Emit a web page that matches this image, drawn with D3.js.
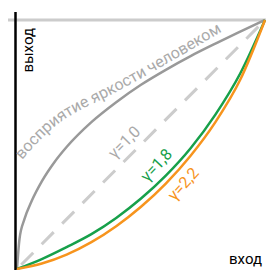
<!DOCTYPE html>
<html>
<head>
<meta charset="utf-8">
<script src="https://cdn.jsdelivr.net/npm/d3@7"></script>
<style>
  body { margin: 0; background: #fff; }
  svg { display: block; font-family: Roboto, "Open Sans", sans-serif; }
</style>
</head>
<body>
<div id="chart"></div>
<script>
// input levels (0..1) and the output
const inputLevels = [0, 0.1, 0.2, 0.3, 0.4, 0.5, 0.6, 0.7, 0.8, 0.9, 1];
const gamma18 = [0, 0.04, 0.088, 0.14, 0.205, 0.283, 0.375, 0.485, 0.62, 0.785, 1];
const gamma22 = [0, 0.022, 0.058, 0.108, 0.172, 0.25, 0.343, 0.455, 0.59, 0.76, 1];

// perception curve is steep near zero, so it gets extra samples there
const perceptionInput = [0, 0.01, 0.03, 0.06, 0.1, 0.15, 0.2, 0.3, 0.4, 0.5, 0.6, 0.7, 0.8, 0.9, 1];
const perceptionOutput = [0, 0.12, 0.2, 0.275, 0.352, 0.428, 0.49, 0.59, 0.67, 0.74, 0.8, 0.855, 0.905, 0.953, 1];

const linearInput = [0, 1];
const linearOutput = [0, 1];

const width = 266, height = 270;

const svg = d3.select("#chart")
  .append("svg")
    .attr("width", width)
    .attr("height", height);

const x = d3.scaleLinear().domain([0, 1]).range([17, 265]);
const y = d3.scaleLinear().domain([0, 1]).range([269, 20]);

const line = d3.line()
  .x(function(d) { return x(d[0]); })
  .y(function(d) { return y(d[1]); })
  .curve(d3.curveMonotoneX);

// top limit of output
svg.append("line")
  .attr("x1", 8).attr("x2", width)
  .attr("y1", y(1)).attr("y2", y(1))
  .attr("stroke", "#cccccc")
  .attr("stroke-width", 3);

// gamma 1.0, dashed diagonal
svg.append("path")
  .datum(d3.zip(linearInput, linearOutput))
  .attr("d", line)
  .attr("fill", "none")
  .attr("stroke", "#cccccc")
  .attr("stroke-width", 3)
  .attr("stroke-dasharray", "17,12")
  .attr("stroke-dashoffset", -6);

svg.append("path")
  .datum(d3.zip(perceptionInput, perceptionOutput))
  .attr("d", line)
  .attr("fill", "none")
  .attr("stroke", "#999999")
  .attr("stroke-width", 2.5);

svg.append("path")
  .datum(d3.zip(inputLevels, gamma18))
  .attr("d", line)
  .attr("fill", "none")
  .attr("stroke", "#17a04a")
  .attr("stroke-width", 2.5);

svg.append("path")
  .datum(d3.zip(inputLevels, gamma22))
  .attr("d", line)
  .attr("fill", "none")
  .attr("stroke", "#f7941d")
  .attr("stroke-width", 2.5);

// vertical axis
svg.append("line")
  .attr("x1", 15.5).attr("x2", 15.5)
  .attr("y1", 12).attr("y2", height)
  .attr("stroke", "#000")
  .attr("stroke-width", 2.5);

// axis titles
svg.append("text")
  .attr("transform", "translate(33,28) rotate(-90)")
  .attr("text-anchor", "end")
  .attr("font-size", 15)
  .attr("fill", "#000")
  .text("выход");

svg.append("text")
  .attr("x", 262).attr("y", 264)
  .attr("text-anchor", "end")
  .attr("font-size", 15)
  .attr("fill", "#000")
  .text("вход");

// guide for the perception label, a flatter arc above the curve
const labelGuide = d3.line().curve(d3.curveNatural)([[22, 160], [62, 121], [120, 90], [218, 34]]);
svg.append("defs").append("path")
  .attr("id", "perception-guide")
  .attr("d", labelGuide);

svg.append("text")
  .attr("font-size", 16)
  .attr("fill", "#aaaaaa")
  .append("textPath")
    .attr("href", "#perception-guide")
    .text("восприятие яркости человеком");

// gamma labels
const gammaLabels = [
  { text: "γ=1,0", x: 124, y: 142, angle: -45, color: "#aaaaaa" },
  { text: "γ=1,8", x: 156, y: 165, angle: -47, color: "#17a04a" },
  { text: "γ=2,2", x: 183, y: 184, angle: -48, color: "#f7941d" }
];

svg.selectAll(".gamma-label")
  .data(gammaLabels)
  .enter()
  .append("text")
    .attr("class", "gamma-label")
    .attr("transform", function(d) { return "translate(" + d.x + "," + d.y + ") rotate(" + d.angle + ")"; })
    .attr("text-anchor", "middle")
    .attr("dy", "0.35em")
    .attr("font-size", 16)
    .attr("fill", function(d) { return d.color; })
    .text(function(d) { return d.text; });
</script>
</body>
</html>
